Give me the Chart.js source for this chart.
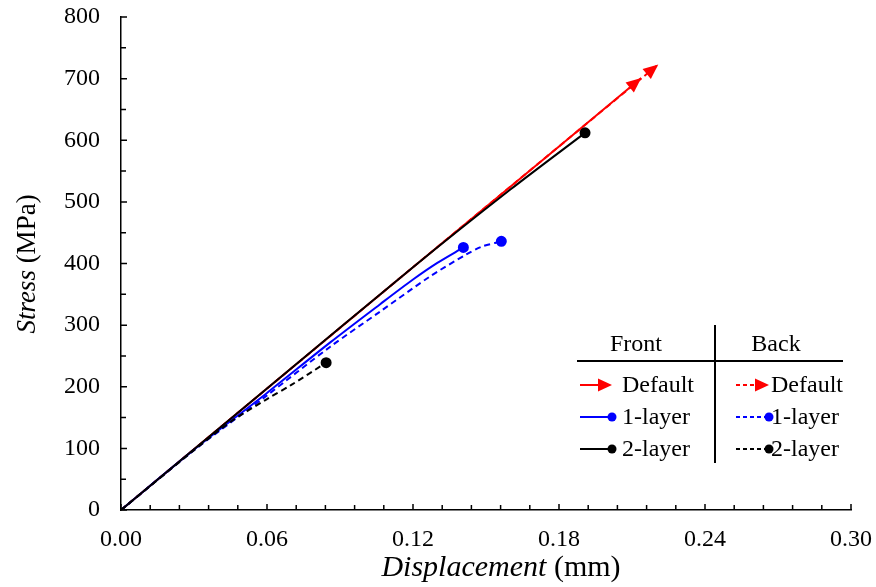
<!DOCTYPE html>
<html>
<head>
<meta charset="utf-8">
<script src="https://cdn.jsdelivr.net/npm/chart.js@4/dist/chart.umd.min.js"></script>
<style>
  html, body { margin: 0; padding: 0; background: #fff; }
  #wrap { width: 876px; height: 587px; position: relative; }
</style>
</head>
<body>
<div id="wrap"><canvas id="stressChart"></canvas></div>
<script>
// 축 눈금
const xTicks = [0, 0.06, 0.12, 0.18, 0.24, 0.30];
const yTicks = [0, 100, 200, 300, 400, 500, 600, 700, 800];

// Front (실선)
const frontDefaultX = [0, 0.06, 0.12, 0.18, 0.2138];
const frontDefaultY = [0, 197, 394, 590, 701];
const front1LayerX = [0, 0.03, 0.06, 0.086, 0.1065, 0.12, 0.13, 0.1407];
const front1LayerY = [0, 98, 190, 272, 334, 374, 401, 426];
const front2LayerX = [0, 0.06, 0.12, 0.16, 0.1907];
const front2LayerY = [0, 197, 394, 520, 612];

// Back (점선)
const backDefaultX = [0, 0.06, 0.12, 0.18, 0.2208];
const backDefaultY = [0, 197, 394, 590, 723];
const back1LayerX = [0, 0.03, 0.06, 0.086, 0.1065, 0.127, 0.1416, 0.148, 0.1563];
const back1LayerY = [0, 97, 186, 265, 322, 379, 414, 427, 436];
const back2LayerX = [0, 0.03, 0.045, 0.06, 0.07, 0.0843];
const back2LayerY = [0, 97, 143, 180, 203, 239];

const RED = '#ff0000';
const BLUE = '#0000ff';
const BLACK = '#000000';
const SERIF = '"Liberation Serif", "Times New Roman", serif';

function pts(xs, ys) {
    return xs.map((x, i) => ({ x: x, y: ys[i] }));
}

// 마지막 점에만 마커
function endMarker(n) {
    return ctx => ctx.dataIndex === n - 1 ? 4.5 : 0;
}

function series(label, xs, ys, color, dashed, marker, arrow) {
    return {
        label: label,
        data: pts(xs, ys),
        showLine: true,
        borderColor: color,
        backgroundColor: color,
        borderWidth: 2,
        borderDash: dashed ? [6, 4] : [],
        tension: arrow ? 0 : 0.3,
        pointRadius: marker ? endMarker(xs.length) : 0,
        pointHoverRadius: 0,
        arrow: arrow
    };
}

// 화살촉 그리기
function drawArrowHead(c, x0, y0, x1, y1, color, len, half) {
    const a = Math.atan2(y1 - y0, x1 - x0);
    c.save();
    c.fillStyle = color;
    c.beginPath();
    c.moveTo(x1, y1);
    c.lineTo(x1 - len * Math.cos(a) + half * Math.sin(a), y1 - len * Math.sin(a) - half * Math.cos(a));
    c.lineTo(x1 - len * Math.cos(a) - half * Math.sin(a), y1 - len * Math.sin(a) + half * Math.cos(a));
    c.closePath();
    c.fill();
    c.restore();
}

const arrowPlugin = {
    id: 'arrows',
    afterDatasetsDraw(chart) {
        chart.data.datasets.forEach((ds, i) => {
            if (!ds.arrow) return;
            const meta = chart.getDatasetMeta(i);
            const n = meta.data.length;
            const p0 = meta.data[n - 2], p1 = meta.data[n - 1];
            drawArrowHead(chart.ctx, p0.x, p0.y, p1.x, p1.y, ds.borderColor, 15, 6.5);
        });
    }
};

// 안쪽 눈금 + 축 제목
const axisPlugin = {
    id: 'axisDecor',
    afterDraw(chart) {
        const c = chart.ctx;
        const xs = chart.scales.x, ys = chart.scales.y;
        const area = chart.chartArea;
        c.save();
        c.strokeStyle = '#000';
        c.lineWidth = 1.5;
        c.beginPath();
        for (let k = 0; k <= 25; k++) {
            const px = xs.getPixelForValue(k * 0.012);
            const len = k % 5 === 0 ? 6 : 5;
            c.moveTo(px, area.bottom);
            c.lineTo(px, area.bottom - len);
        }
        for (let k = 0; k <= 16; k++) {
            const py = ys.getPixelForValue(k * 50);
            const len = k % 2 === 0 ? 6 : 5;
            c.moveTo(area.left, py);
            c.lineTo(area.left + len, py);
        }
        c.stroke();

        c.fillStyle = '#000';
        c.textBaseline = 'middle';
        // x축 제목
        const xi = 'Displacement', xn = ' (mm)';
        c.font = 'italic 30px ' + SERIF;
        const wi = c.measureText(xi).width;
        c.font = '30px ' + SERIF;
        const wn = c.measureText(xn).width;
        let sx = 501 - (wi + wn) / 2;
        c.textAlign = 'left';
        c.font = 'italic 30px ' + SERIF;
        c.fillText(xi, sx, 568);
        c.font = '30px ' + SERIF;
        c.fillText(xn, sx + wi, 568);

        // y축 제목
        c.translate(28, 264);
        c.rotate(-Math.PI / 2);
        const yi = 'Stress', yn = ' (MPa)';
        c.font = 'italic 27px ' + SERIF;
        const vi = c.measureText(yi).width;
        c.font = '27px ' + SERIF;
        const vn = c.measureText(yn).width;
        sx = -(vi + vn) / 2;
        c.font = 'italic 27px ' + SERIF;
        c.fillText(yi, sx, 0);
        c.font = '27px ' + SERIF;
        c.fillText(yn, sx + vi, 0);
        c.restore();
    }
};

// 표 형태 범례
const legendPlugin = {
    id: 'tableLegend',
    afterDraw(chart) {
        const c = chart.ctx;
        c.save();
        c.strokeStyle = '#000';
        c.lineWidth = 2;
        c.beginPath();
        c.moveTo(577, 361); c.lineTo(843, 361);
        c.moveTo(715, 325); c.lineTo(715, 463);
        c.stroke();

        c.fillStyle = '#000';
        c.font = '24px ' + SERIF;
        c.textBaseline = 'middle';
        c.textAlign = 'center';
        c.fillText('Front', 636, 345);
        c.fillText('Back', 776, 345);

        const rows = [
            { name: 'Default', color: RED, arrow: true, y: 385 },
            { name: '1-layer', color: BLUE, arrow: false, y: 417 },
            { name: '2-layer', color: BLACK, arrow: false, y: 449 }
        ];
        c.textAlign = 'left';
        rows.forEach(r => {
            [[580, 612, 622, []], [736, 769, 771, [4, 3]]].forEach(([x0, x1, tx, dash]) => {
                c.strokeStyle = r.color;
                c.lineWidth = 2;
                c.setLineDash(dash);
                c.beginPath();
                c.moveTo(x0, r.y);
                c.lineTo(r.arrow ? x1 - 8 : x1, r.y);
                c.stroke();
                c.setLineDash([]);
                if (r.arrow) {
                    drawArrowHead(c, x0, r.y, x1, r.y, r.color, 14, 6.5);
                } else {
                    c.fillStyle = r.color;
                    c.beginPath();
                    c.arc(x1, r.y, 4.5, 0, Math.PI * 2);
                    c.fill();
                }
                c.fillStyle = '#000';
                c.fillText(r.name, tx, r.y + 1);
            });
        });
        c.restore();
    }
};

new Chart(document.getElementById('stressChart'), {
    type: 'scatter',
    data: {
        datasets: [
            series('Front 2-layer', front2LayerX, front2LayerY, BLACK, false, true, false),
            series('Back 2-layer', back2LayerX, back2LayerY, BLACK, true, true, false),
            series('Front 1-layer', front1LayerX, front1LayerY, BLUE, false, true, false),
            series('Back 1-layer', back1LayerX, back1LayerY, BLUE, true, true, false),
            series('Front Default', frontDefaultX, frontDefaultY, RED, false, false, true),
            series('Back Default', backDefaultX, backDefaultY, RED, true, false, true)
        ]
    },
    options: {
        responsive: true,
        maintainAspectRatio: false,
        animation: false,
        events: [],
        layout: { padding: { top: 17, right: 25, left: 0, bottom: 0 } },
        plugins: {
            legend: { display: false },
            tooltip: { enabled: false }
        },
        scales: {
            x: {
                type: 'linear',
                min: 0,
                max: 0.3,
                afterBuildTicks: s => { s.ticks = xTicks.map(v => ({ value: v })); },
                afterFit: s => { s.height = 77; s.paddingLeft = 0; s.paddingRight = 0; },
                grid: { display: false },
                border: { display: true, color: '#000', width: 1.5 },
                ticks: {
                    color: '#000',
                    padding: 7,
                    maxRotation: 0,
                    font: { family: SERIF, size: 24 },
                    callback: v => v.toFixed(2)
                }
            },
            y: {
                type: 'linear',
                min: 0,
                max: 800,
                afterBuildTicks: s => { s.ticks = yTicks.map(v => ({ value: v })); },
                afterFit: s => { s.width = 121; s.paddingTop = 0; s.paddingBottom = 0; },
                grid: { display: false },
                border: { display: true, color: '#000', width: 1.5 },
                ticks: {
                    color: '#000',
                    padding: 13,
                    font: { family: SERIF, size: 24 },
                    callback: v => String(v)
                }
            }
        }
    },
    plugins: [arrowPlugin, axisPlugin, legendPlugin]
});
</script>
</body>
</html>
